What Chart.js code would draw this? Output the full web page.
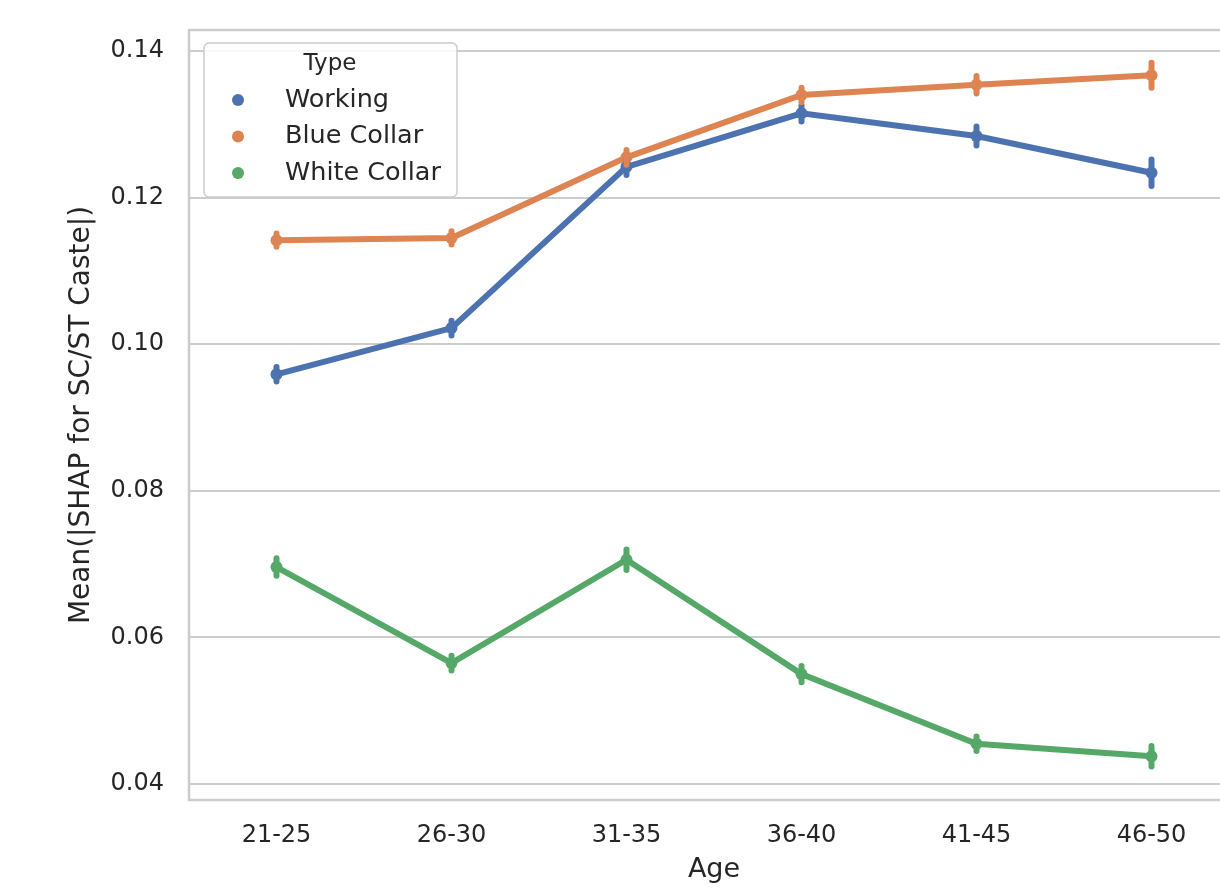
<!DOCTYPE html>
<html>
<head>
<meta charset="utf-8">
<title>Mean |SHAP| for SC/ST Caste by Age</title>
<script src="https://cdn.jsdelivr.net/npm/chart.js@4.4.1/dist/chart.umd.min.js"></script>
<style>
  html, body { margin: 0; padding: 0; background: #ffffff; overflow: hidden; width: 1220px; height: 888px; }
  canvas { display: block; }
</style>
</head>
<body>
<canvas id="chart" width="1245" height="888" style="width:1245px;height:888px"></canvas>
<script>
// Age bands on the x axis
const ageGroups = ['21-25', '26-30', '31-35', '36-40', '41-45', '46-50'];

// Mean |SHAP| per worker type
const working     = [0.0959, 0.1022, 0.1242, 0.1315, 0.1284, 0.1234];
const blueCollar  = [0.1142, 0.1145, 0.1255, 0.1340, 0.1354, 0.1367];
const whiteCollar = [0.0696, 0.0565, 0.0706, 0.0550, 0.0455, 0.0438];

// Half-width of the confidence interval around each mean
const workingErr     = [0.0010, 0.0010, 0.0011, 0.0011, 0.0013, 0.0018];
const blueCollarErr  = [0.0009, 0.0009, 0.0010, 0.0010, 0.0012, 0.0017];
const whiteCollarErr = [0.0012, 0.0010, 0.0014, 0.0011, 0.0010, 0.0014];

// Tick values on the y axis
const yTicks = [0.04, 0.06, 0.08, 0.10, 0.12, 0.14];

const seriesNames  = ['Working', 'Blue Collar', 'White Collar'];
const seriesColors = ['#4c72b0', '#dd8452', '#55a868'];
const seriesValues = [working, blueCollar, whiteCollar];
const seriesErrors = [workingErr, blueCollarErr, whiteCollarErr];

const FONT = "'DejaVu Sans', 'Liberation Sans', sans-serif";
const TEXT = '#262626';
const GRID = '#cccccc';

// Frame around the plotting area (seaborn whitegrid spines)
const framePlugin = {
  id: 'frame',
  beforeDatasetsDraw(chart) {
    const { ctx, chartArea: a } = chart;
    ctx.save();
    ctx.strokeStyle = GRID;
    ctx.lineWidth = 2.5;
    ctx.strokeRect(a.left, a.top, a.right - a.left, a.bottom - a.top);
    ctx.restore();
  }
};

// Vertical confidence-interval bars at each point
const errorBarPlugin = {
  id: 'errorBars',
  afterDatasetsDraw(chart) {
    const { ctx } = chart;
    const x = chart.scales.x, y = chart.scales.y;
    ctx.save();
    ctx.lineCap = 'round';
    chart.data.datasets.forEach((ds, i) => {
      const errs = seriesErrors[i];
      ctx.strokeStyle = ds.borderColor;
      ctx.lineWidth = 6;
      ds.data.forEach((v, j) => {
        const px = x.getPixelForValue(j);
        ctx.beginPath();
        ctx.moveTo(px, y.getPixelForValue(v - errs[j]));
        ctx.lineTo(px, y.getPixelForValue(v + errs[j]));
        ctx.stroke();
      });
    });
    ctx.restore();
  }
};

// Legend box with a title, placed inside the upper-left of the plot
const legendPlugin = {
  id: 'boxLegend',
  afterDraw(chart) {
    const { ctx } = chart;
    const bx = 204, by = 43, bw = 253, bh = 154;
    ctx.save();
    ctx.beginPath();
    ctx.roundRect(bx, by, bw, bh, 5);
    ctx.fillStyle = 'rgba(255,255,255,0.85)';
    ctx.fill();
    ctx.strokeStyle = GRID;
    ctx.lineWidth = 1.5;
    ctx.stroke();

    ctx.fillStyle = TEXT;
    ctx.textBaseline = 'middle';
    ctx.textAlign = 'center';
    ctx.font = '23px ' + FONT;
    ctx.fillText('Type', 330, 64);

    ctx.textAlign = 'left';
    ctx.font = '25.5px ' + FONT;
    chart.data.datasets.forEach((ds, i) => {
      const cy = 100 + i * 36.5;
      ctx.beginPath();
      ctx.arc(238, cy, 6, 0, Math.PI * 2);
      ctx.fillStyle = ds.borderColor;
      ctx.fill();
      ctx.fillStyle = TEXT;
      ctx.fillText(ds.label, 285, cy);
    });
    ctx.restore();
  }
};

new Chart(document.getElementById('chart'), {
  type: 'line',
  data: {
    labels: ageGroups,
    datasets: seriesNames.map((name, i) => ({
      label: name,
      data: seriesValues[i],
      borderColor: seriesColors[i],
      backgroundColor: seriesColors[i],
      borderWidth: 6,
      pointRadius: 6,
      pointBorderWidth: 0,
      pointHoverRadius: 6,
      tension: 0,
      fill: false
    }))
  },
  options: {
    responsive: false,
    animation: false,
    devicePixelRatio: 1,
    layout: { padding: { left: 0, top: 30, right: 0, bottom: 0 } },
    plugins: {
      legend: { display: false },
      tooltip: { enabled: false }
    },
    scales: {
      x: {
        type: 'category',
        offset: true,
        grid: { display: false, drawTicks: false },
        border: { display: false },
        ticks: { color: TEXT, font: { family: FONT, size: 24 }, padding: 21, maxRotation: 0 },
        title: {
          display: true, text: 'Age', color: TEXT,
          font: { family: FONT, size: 27 }, padding: { top: 0, bottom: 2 }
        },
        afterFit(scale) { scale.height = 88; }
      },
      y: {
        min: 0.03782,
        max: 0.14287,
        grid: { color: GRID, lineWidth: 2, drawTicks: false },
        border: { display: false },
        afterBuildTicks(scale) { scale.ticks = yTicks.map(v => ({ value: v })); },
        ticks: {
          color: TEXT, font: { family: FONT, size: 24 }, padding: 25,
          callback: v => v.toFixed(2)
        },
        title: {
          display: true, text: 'Mean(|SHAP for SC/ST Caste|)', color: TEXT,
          font: { family: FONT, size: 28 }, padding: { top: 65, bottom: 0 }
        },
        afterFit(scale) {
          scale.width = 189;
          scale.paddingTop = 0;
          scale.paddingBottom = 0;
        }
      }
    }
  },
  plugins: [framePlugin, errorBarPlugin, legendPlugin]
});
</script>
</body>
</html>
